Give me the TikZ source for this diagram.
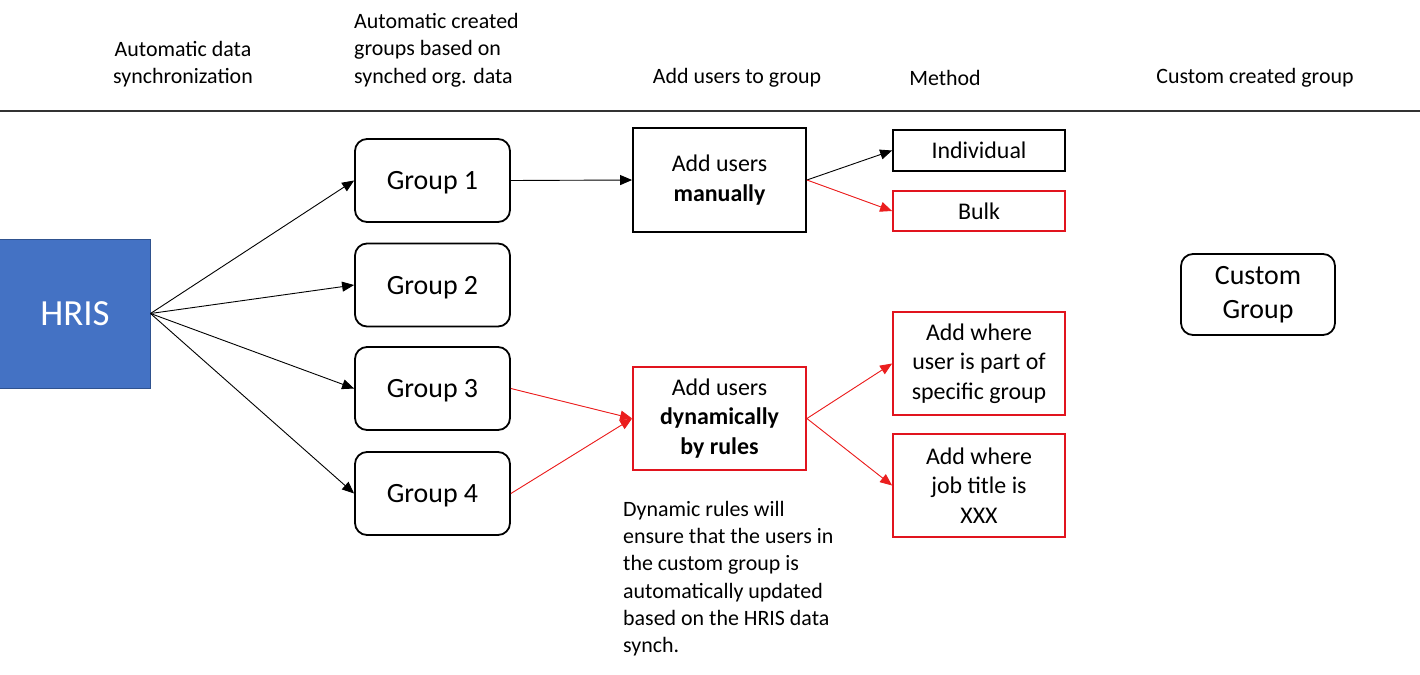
\documentclass[tikz,border=0pt]{standalone}
\usepackage{fontspec}
\setmainfont{Carlito}
\usetikzlibrary{arrows.meta}
\definecolor{hrisblue}{HTML}{4472C4}
\definecolor{hrisedge}{HTML}{2F528F}
\definecolor{redbox}{RGB}{225,20,30}
\definecolor{redline}{RGB}{235,30,30}
\tikzset{
  hdr/.style={font=\fontsize{22}{27.5}\selectfont, align=center, inner sep=0pt},
  grp/.style={draw=black, line width=1.8bp, rounded corners=12bp, minimum width=155bp, minimum height=83bp, inner sep=0pt, font=\fontsize{28}{34}\selectfont, align=center},
  blk/.style={draw=black, line width=1.8bp, inner sep=0pt, font=\fontsize{24}{29.5}\selectfont, align=center},
  rbx/.style={blk, draw=redbox},
  arr/.style={-{Triangle[length=12bp,width=10bp]}, line width=0.9bp, black},
  rarr/.style={arr, draw=redline, fill=redline},
}
\begin{document}
\begin{tikzpicture}[x=1bp,y=-1bp]
\useasboundingbox (0,0) rectangle (1420,675);
% header
\node[hdr] (h1) at (183,64) {Automatic data\\synchronization};
\node[hdr, align=left, anchor=west] (h2) at (354,50) {Automatic created\\groups based on\\synched org. data};
\node[hdr] (h3) at (737,78) {Add users to group};
\node[hdr] (h4) at (945,78) {Method};
\node[hdr] (h5) at (1255,78) {Custom created group};
\coordinate (l0) at (0,111);
\coordinate (l1) at (1420,111);
\draw[line width=1.2bp, black!80] (l0) -- (l1);
% nodes
\node[fill=hrisblue, draw=hrisedge, line width=1bp, minimum width=150bp, minimum height=149bp, inner sep=0pt, text=white, font=\fontsize{37}{40}\selectfont] (hris) at (75,313.5) {HRIS};
\node[grp, text depth=0pt] (g1) at (432.5,180.5) {Group 1};
\node[grp, text depth=0pt] (g2) at (432.5,285) {Group 2};
\node[grp, text depth=0pt] (g3) at (432.5,388.5) {Group 3};
\node[grp, text depth=0pt] (g4) at (432.5,493.5) {Group 4};
\node[blk, minimum width=173bp, minimum height=104bp] (man) at (719.5,180) {Add users\\\textbf{manually}};
\node[blk, minimum width=172bp, minimum height=41bp] (ind) at (979,150.5) {Individual};
\node[rbx, minimum width=172bp, minimum height=40bp] (bulk) at (979,211) {Bulk};
\node[rbx, minimum width=173bp, minimum height=103bp] (dyn) at (719.5,418.5) {Add users\\\textbf{dynamically}\\\textbf{by rules}};
\node[rbx, minimum width=172bp, minimum height=103bp] (spec) at (979,363.5) {Add where\\user is part of\\specific group};
\node[rbx, minimum width=172bp, minimum height=103bp] (xxx) at (979,485.5) {Add where\\job title is\\XXX};
\node[grp, minimum width=154bp, minimum height=81bp] (cust) at (1258,294.5) {Custom\\Group};
\node[font=\fontsize{22}{27.3}\selectfont, align=left, anchor=north west, inner sep=0pt] (note) at (623,501) {Dynamic rules will\\ensure that the users in\\the custom group is\\automatically updated\\based on the HRIS data\\synch.};
% connectors
\draw[arr] (hris.east) -- (g1.west);
\draw[arr] (hris.east) -- (g2.west);
\draw[arr] (hris.east) -- (g3.west);
\draw[arr] (hris.east) -- (g4.west);
\draw[arr] (g1.east) -- (man.west);
\draw[arr] (man.east) -- (ind.west);
\draw[rarr] (man.east) -- (bulk.west);
\draw[rarr] (g3.east) -- (dyn.west);
\draw[rarr] (g4.east) -- (dyn.west);
\draw[rarr] (dyn.east) -- (spec.west);
\draw[rarr] (dyn.east) -- (xxx.west);
\end{tikzpicture}
\end{document}
